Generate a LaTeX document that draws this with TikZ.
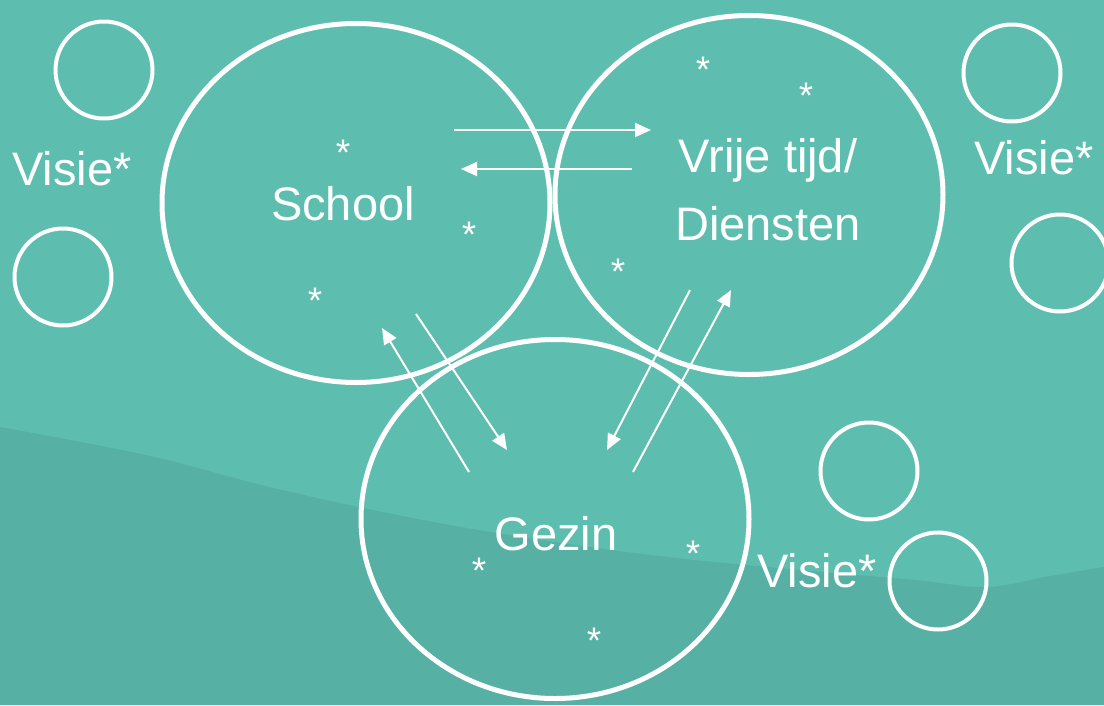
\documentclass[tikz,border=0pt]{standalone}
\usepackage{fontspec}
\setmainfont{Liberation Sans}
\usetikzlibrary{arrows.meta, shapes.geometric}
\definecolor{bgTeal}{HTML}{5DBEB0}
\definecolor{bgDeep}{HTML}{57B0A4}

\begin{document}
\begin{tikzpicture}[x=1pt, y=-1pt, >={Triangle[length=16pt, width=14pt]},
    kring/.style={draw=white, line width=5pt, ellipse, minimum width=388pt,
                  minimum height=359pt, inner sep=0pt},
    visring/.style={draw=white, line width=4pt, circle, minimum size=97pt, inner sep=0pt},
    big/.style={text=white, inner sep=0pt, font=\fontsize{47pt}{68pt}\selectfont},
    spark/.style={text=white, inner sep=0pt, anchor=base, font=\fontsize{37pt}{40pt}\selectfont},
    flow/.style={->, draw=white, line width=2pt}]
  % background with the darker wave at the bottom
  \fill[bgTeal] (0,0) rectangle (1104,705);
  \useasboundingbox (0,0) rectangle (1104,705);
  \fill[bgDeep] plot[smooth, tension=0.6] coordinates {(0,427) (150,456) (282,490)
      (450,525) (634,553) (800,570) (915,580) (986,587) (1050,576) (1104,567)}
    -- (1104,705) -- (0,705) -- cycle;

  % the three domains
  \node[kring] (school) at (356,203) {};
  \node[kring] (vrij) at (749,195) {};
  \node[kring] (gezin) at (555,519) {};
  \node[big, anchor=base] (schoolTxt) at (343,220) {School};
  \node[big, align=center] (vrijTxt) at (768,190) {Vrije tijd/\\Diensten};
  \node[big, anchor=base] (gezinTxt) at (556,550) {Gezin};

  % loose visions round the edge
  \node[visring] (vis1) at (104,70) {};
  \node[visring] (vis2) at (63,277) {};
  \node[visring] (vis3) at (1012,73) {};
  \node[visring] (vis4) at (1060,263) {};
  \node[visring] (vis5) at (869,471) {};
  \node[visring] (vis6) at (938,581) {};
  \node[big, anchor=base] (visL) at (72,185) {Visie*};
  \node[big, anchor=base] (visR) at (1034,174) {Visie*};
  \node[big, anchor=base] (visB) at (817,587) {Visie*};

  % asterisks
  \foreach \px/\py [count=\k] in {343/165, 469/247, 315/313, 703/82, 806/108,
                                  618/284, 479/583, 693/566, 594/653}
    \node[spark] (ast\k) at (\px,\py) {*};

  % exchanges between the domains
  \coordinate (sv1) at (454,130);  \coordinate (sv2) at (651,130);
  \coordinate (vs1) at (632,169);  \coordinate (vs2) at (461,169);
  \coordinate (sg1) at (416,314);  \coordinate (sg2) at (507,450);
  \coordinate (gs1) at (469,472);  \coordinate (gs2) at (382,328);
  \coordinate (vg1) at (690,290);  \coordinate (vg2) at (607,450);
  \coordinate (gv1) at (633,472);  \coordinate (gv2) at (731,290);
  \draw[flow] (sv1) -- (sv2);
  \draw[flow] (vs1) -- (vs2);
  \draw[flow] (sg1) -- (sg2);
  \draw[flow] (gs1) -- (gs2);
  \draw[flow] (vg1) -- (vg2);
  \draw[flow] (gv1) -- (gv2);
\end{tikzpicture}
\end{document}
